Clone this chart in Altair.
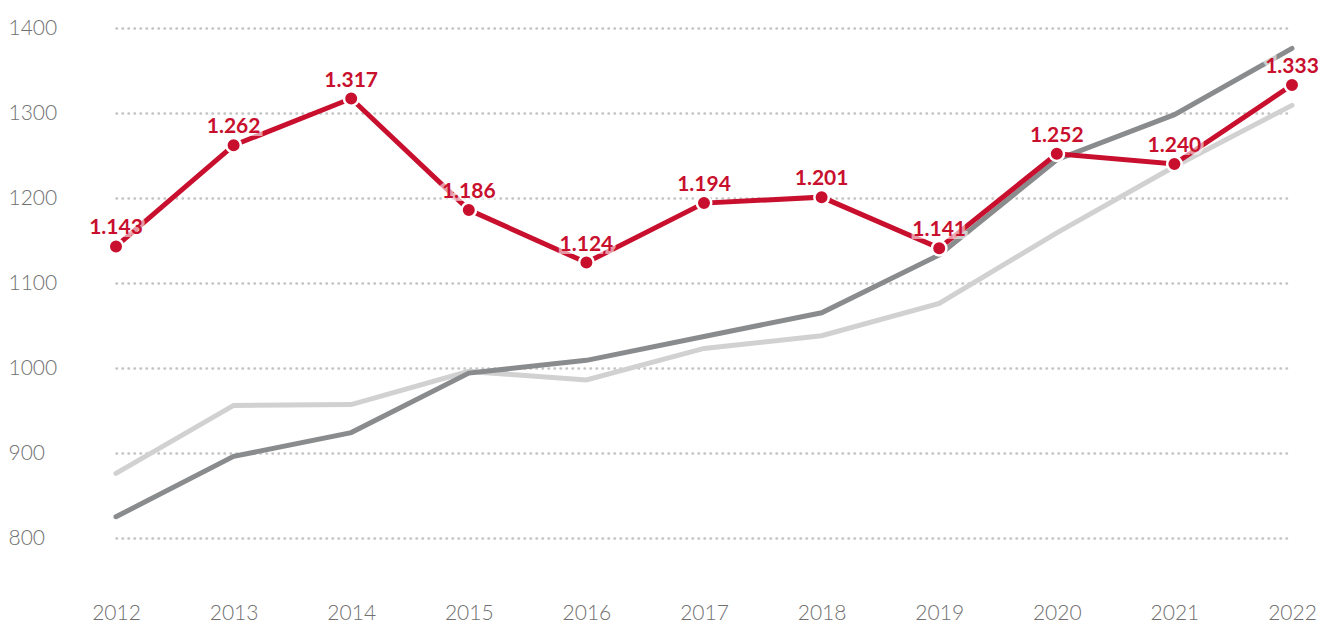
import altair as alt
import pandas as pd

years = [2012, 2013, 2014, 2015, 2016, 2017, 2018, 2019, 2020, 2021, 2022]
red_values = [1143, 1262, 1317, 1186, 1124, 1194, 1201, 1141, 1252, 1240, 1333]
red_labels = ["1.143", "1.262", "1.317", "1.186", "1.124", "1.194", "1.201", "1.141", "1.252", "1.240", "1.333"]
dark_values = [825, 896, 924, 994, 1009, 1037, 1065, 1133, 1245, 1298, 1376]
light_values = [876, 956, 957, 996, 986, 1023, 1038, 1076, 1159, 1237, 1309]
y_ticks = [800, 900, 1000, 1100, 1200, 1300, 1400]

RED = "#c8102e"
DARK = "#898b8d"
LIGHT = "#d1d1d1"

df = pd.DataFrame({
    "year": years,
    "red": red_values,
    "label": red_labels,
    "dark": dark_values,
    "light": light_values,
})

x = alt.X("year:Q",
          scale=alt.Scale(domain=[2012, 2022], nice=False, zero=False),
          axis=alt.Axis(values=years, format="d", title=None, grid=False, domain=False,
                        ticks=False, tickSize=0, labelPadding=64, labelFontSize=21,
                        labelFont="Lato", labelFontWeight=300, labelColor="#707070",
                        labelFlush=False))

yscale = alt.Scale(domain=[800, 1400], nice=False, zero=False)
yaxis = alt.Axis(values=y_ticks, format="d", title=None, domain=False, ticks=False, tickSize=0,
                 labelAlign="left", labelPadding=108, labelFontSize=21, labelFont="Lato",
                 labelFontWeight=300, labelColor="#707070", grid=True,
                 gridColor="#c4c4c4", gridDash=[0.5, 5.5], gridCap="round", gridWidth=2.5)

base = alt.Chart(df)

light_line = base.mark_line(color=LIGHT, strokeWidth=5, strokeCap="round").encode(
    x=x, y=alt.Y("light:Q", scale=yscale, axis=yaxis))
dark_line = base.mark_line(color=DARK, strokeWidth=5, strokeCap="round").encode(
    x=x, y=alt.Y("dark:Q", scale=yscale))
red_line = base.mark_line(color=RED, strokeWidth=5, strokeCap="round").encode(
    x=x, y=alt.Y("red:Q", scale=yscale))
red_points = base.mark_point(filled=True, color=RED, size=210, opacity=1,
                             stroke="white", strokeWidth=2.5, fill=RED).encode(
    x=x, y=alt.Y("red:Q", scale=yscale))
halo = base.mark_text(font="Lato", fontWeight="bold", fontSize=21, dy=-12,
                      baseline="alphabetic", color="white", stroke="white",
                      strokeWidth=6, strokeOpacity=0.75, opacity=0.75).encode(
    x=x, y=alt.Y("red:Q", scale=yscale), text="label:N")
labels = base.mark_text(font="Lato", fontWeight="bold", fontSize=21, dy=-12,
                        baseline="alphabetic", color=RED).encode(
    x=x, y=alt.Y("red:Q", scale=yscale), text="label:N")

chart = alt.layer(light_line, dark_line, red_line, halo, red_points, labels).properties(
    width=1176, height=510,
    autosize=alt.AutoSizeParams(type="none"),
    padding={"left": 108, "top": 20, "right": 31, "bottom": 86},
    background="white",
).configure_view(stroke=None)

chart.save("out.html", embed_options={"renderer": "svg", "actions": False})
